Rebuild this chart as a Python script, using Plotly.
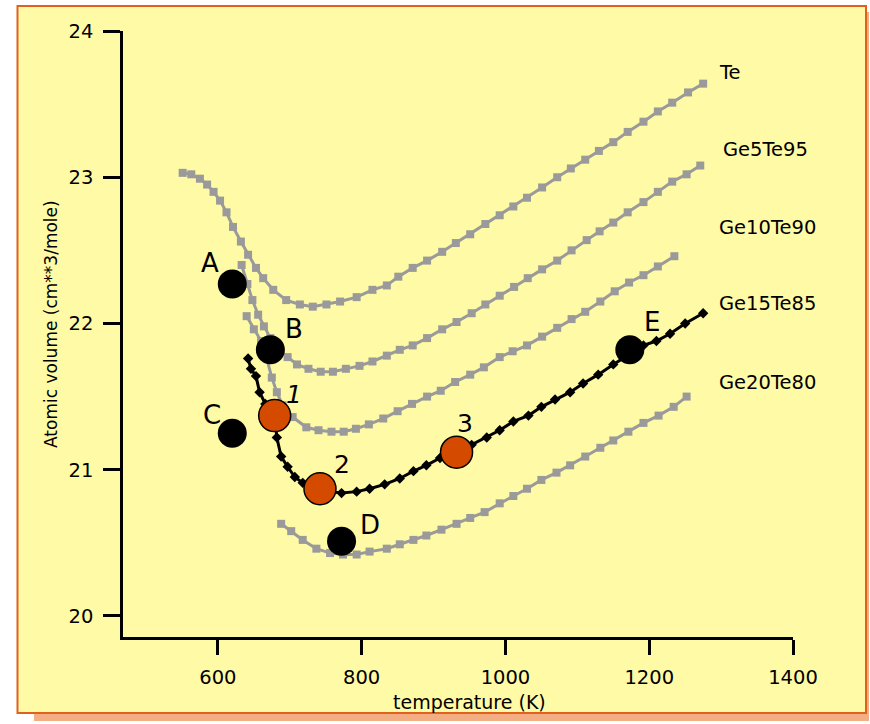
import plotly.graph_objects as go

# ---------------- data ----------------
te_x = [551, 563, 575, 585, 594, 603, 612, 621, 632, 642, 653, 663, 677, 695, 714, 732, 751, 770, 793, 815,
        835, 851, 871, 891, 912, 931, 951, 972, 992, 1011, 1030, 1051, 1072, 1091, 1111, 1130, 1150, 1170,
        1192, 1212, 1232, 1254, 1275]
te_y = [23.03, 23.02, 22.99, 22.95, 22.90, 22.84, 22.76, 22.66, 22.56, 22.47, 22.38, 22.31, 22.23, 22.16,
        22.13, 22.115, 22.13, 22.15, 22.18, 22.23, 22.26, 22.32, 22.38, 22.43, 22.49, 22.55, 22.61, 22.68,
        22.74, 22.80, 22.86, 22.93, 23.00, 23.06, 23.12, 23.18, 23.24, 23.31, 23.38, 23.45, 23.51, 23.58, 23.64]

ge5_x = [633, 641, 648, 656, 664, 673, 684, 697, 710, 726, 743, 760, 778, 797, 815, 835, 853, 871, 891, 912,
         932, 953, 972, 992, 1012, 1031, 1051, 1072, 1092, 1113, 1131, 1150, 1170, 1192, 1212, 1232, 1252, 1271]
ge5_y = [22.40, 22.27, 22.16, 22.06, 21.98, 21.90, 21.82, 21.77, 21.72, 21.69, 21.67, 21.67, 21.69, 21.71,
         21.74, 21.78, 21.82, 21.85, 21.90, 21.96, 22.01, 22.07, 22.13, 22.19, 22.25, 22.31, 22.37, 22.43,
         22.50, 22.57, 22.63, 22.69, 22.76, 22.83, 22.90, 22.97, 23.02, 23.08]

ge10_x = [640, 650, 660, 668, 675, 682, 690, 704, 723, 740, 758, 775, 792, 810, 830, 850, 870, 891, 910, 930,
          951, 970, 992, 1010, 1030, 1051, 1072, 1092, 1111, 1132, 1152, 1172, 1192, 1212, 1235]
ge10_y = [22.05, 21.96, 21.88, 21.76, 21.63, 21.53, 21.44, 21.36, 21.29, 21.27, 21.26, 21.26, 21.28, 21.31,
          21.35, 21.40, 21.45, 21.50, 21.54, 21.60, 21.65, 21.70, 21.77, 21.81, 21.85, 21.91, 21.97, 22.03,
          22.08, 22.15, 22.22, 22.28, 22.33, 22.39, 22.46]

ge15_x = [642, 646, 653, 658, 666, 672, 679, 682, 688, 697, 707, 718, 730, 742, 756, 772, 793, 811, 832, 853,
          872, 890, 909, 933, 953, 974, 992, 1011, 1032, 1050, 1069, 1090, 1108, 1129, 1150, 1173, 1192, 1210,
          1229, 1250, 1275]
ge15_y = [21.76, 21.69, 21.64, 21.53, 21.45, 21.41, 21.37, 21.22, 21.09, 21.02, 20.95, 20.91, 20.89, 20.87,
          20.85, 20.84, 20.85, 20.87, 20.90, 20.94, 20.99, 21.03, 21.08, 21.12, 21.17, 21.22, 21.27, 21.33,
          21.37, 21.43, 21.48, 21.53, 21.59, 21.65, 21.72, 21.79, 21.85, 21.88, 21.93, 22.00, 22.07]

ge20_x = [688, 702, 718, 737, 756, 774, 793, 811, 835, 853, 872, 890, 911, 932, 951, 971, 992, 1011, 1030,
          1050, 1071, 1090, 1111, 1132, 1150, 1171, 1192, 1213, 1234, 1252]
ge20_y = [20.63, 20.58, 20.52, 20.46, 20.43, 20.42, 20.42, 20.44, 20.46, 20.49, 20.52, 20.55, 20.59, 20.63,
          20.67, 20.71, 20.77, 20.82, 20.87, 20.93, 20.98, 21.03, 21.09, 21.15, 21.20, 21.26, 21.32, 21.37,
          21.43, 21.50]

series_names = ["Te", "Ge5Te95", "Ge10Te90", "Ge15Te85", "Ge20Te80"]

state_labels = ["A", "B", "C", "D", "E"]
state_x = [620, 673, 620, 772, 1173]
state_y = [22.27, 21.82, 21.25, 20.51, 21.82]

step_labels = ["<i>1</i>", "2", "3"]
step_x = [679, 742, 932]
step_y = [21.37, 20.87, 21.12]

x_ticks = [600, 800, 1000, 1200, 1400]
y_ticks = [20, 21, 22, 23, 24]

# ---------------- layout geometry ----------------
W, H = 870, 724
L, R, T, B = 123, 793, 31, 637


def px(xp):
    return (xp - L) / (R - L)


def py(yp):
    return (B - yp) / (B - T)


FONT = "DejaVu Sans, Arial, sans-serif"
GRAY = "#9A9A9A"
YELLOW = "#FFFAA6"
ORANGE_EDGE = "#E2601C"

fig = go.Figure()

for xs, ys in [(te_x, te_y), (ge5_x, ge5_y), (ge10_x, ge10_y), (ge20_x, ge20_y)]:
    fig.add_trace(go.Scatter(x=xs, y=ys, mode="lines+markers",
                             line=dict(color=GRAY, width=3),
                             marker=dict(symbol="square", size=8, color=GRAY),
                             hoverinfo="skip"))

fig.add_trace(go.Scatter(x=ge15_x, y=ge15_y, mode="lines+markers",
                         line=dict(color="black", width=3),
                         marker=dict(symbol="diamond", size=8, color="black"),
                         hoverinfo="skip"))

fig.add_trace(go.Scatter(x=state_x, y=state_y, mode="markers",
                         marker=dict(size=29, color="black"), hoverinfo="skip"))
fig.add_trace(go.Scatter(x=step_x, y=step_y, mode="markers",
                         marker=dict(size=32, color="#D44B00", line=dict(color="black", width=1.5)),
                         hoverinfo="skip"))

annotations = []
state_off = [(-22, 21), (24, 21), (-20, 18), (28, 16), (22, 28)]
for lab, xv, yv, (dx, dy) in zip(state_labels, state_x, state_y, state_off):
    annotations.append(dict(x=xv, y=yv, xref="x", yref="y", text=lab, showarrow=False,
                            xshift=dx, yshift=dy, font=dict(family=FONT, size=26, color="black")))
step_off = [(19, 21), (22, 24), (8, 29)]
for lab, xv, yv, (dx, dy) in zip(step_labels, step_x, step_y, step_off):
    annotations.append(dict(x=xv, y=yv, xref="x", yref="y", text=lab, showarrow=False,
                            xshift=dx, yshift=dy, font=dict(family=FONT, size=25, color="black")))

name_pos = [(717, 72), (721, 149), (717, 227), (717, 303), (717, 382)]
for name, (xp, yp) in zip(series_names, name_pos):
    annotations.append(dict(x=px(xp), y=py(yp), xref="paper", yref="paper", text=name,
                            showarrow=False, xanchor="left", yanchor="middle",
                            font=dict(family=FONT, size=19.5, color="black")))

annotations.append(dict(x=px(469), y=py(702), xref="paper", yref="paper", text="temperature (K)",
                        showarrow=False, xanchor="center", yanchor="middle",
                        font=dict(family=FONT, size=19, color="black")))
annotations.append(dict(x=px(51), y=py(324), xref="paper", yref="paper",
                        text="Atomic volume (cm**3/mole)", textangle=-90,
                        showarrow=False, xanchor="center", yanchor="middle",
                        font=dict(family=FONT, size=17, color="black")))

shapes = [
    # shadow strips
    dict(type="rect", xref="paper", yref="paper", layer="below",
         x0=px(34), x1=px(869), y0=py(721), y1=py(711),
         fillcolor="#F3AE84", line=dict(width=0)),
    dict(type="rect", xref="paper", yref="paper", layer="below",
         x0=px(865), x1=px(869), y0=py(721), y1=py(12),
         fillcolor="#F3AE84", line=dict(width=0)),
    # yellow frame
    dict(type="rect", xref="paper", yref="paper", layer="below",
         x0=px(17.5), x1=px(866), y0=py(713), y1=py(6),
         fillcolor=YELLOW, line=dict(color=ORANGE_EDGE, width=2)),
]

fig.update_layout(
    width=W, height=H,
    margin=dict(l=L, r=W - R, t=T, b=H - B, pad=0),
    paper_bgcolor="white", plot_bgcolor="rgba(0,0,0,0)",
    showlegend=False,
    annotations=annotations, shapes=shapes,
    font=dict(family=FONT, color="black"),
    xaxis=dict(range=[468, 1400], tickvals=x_ticks, ticktext=[str(v) for v in x_ticks],
               showline=True, linecolor="black", linewidth=2.5, ticks="outside",
               ticklen=15, tickwidth=2.5, tickcolor="black", showgrid=False, zeroline=False,
               tickfont=dict(family=FONT, size=19.5), ticklabelstandoff=6),
    yaxis=dict(range=[19.856, 24], tickvals=y_ticks, ticktext=[str(v) for v in y_ticks],
               showline=True, linecolor="black", linewidth=2.5, ticks="outside",
               ticklen=17, tickwidth=2.5, tickcolor="black", showgrid=False, zeroline=False,
               tickfont=dict(family=FONT, size=19.5), ticklabelstandoff=6),
)

fig.write_html("out.html", config={"displayModeBar": False},
               post_script="document.body.style.margin='0';document.body.style.overflow='hidden';")
